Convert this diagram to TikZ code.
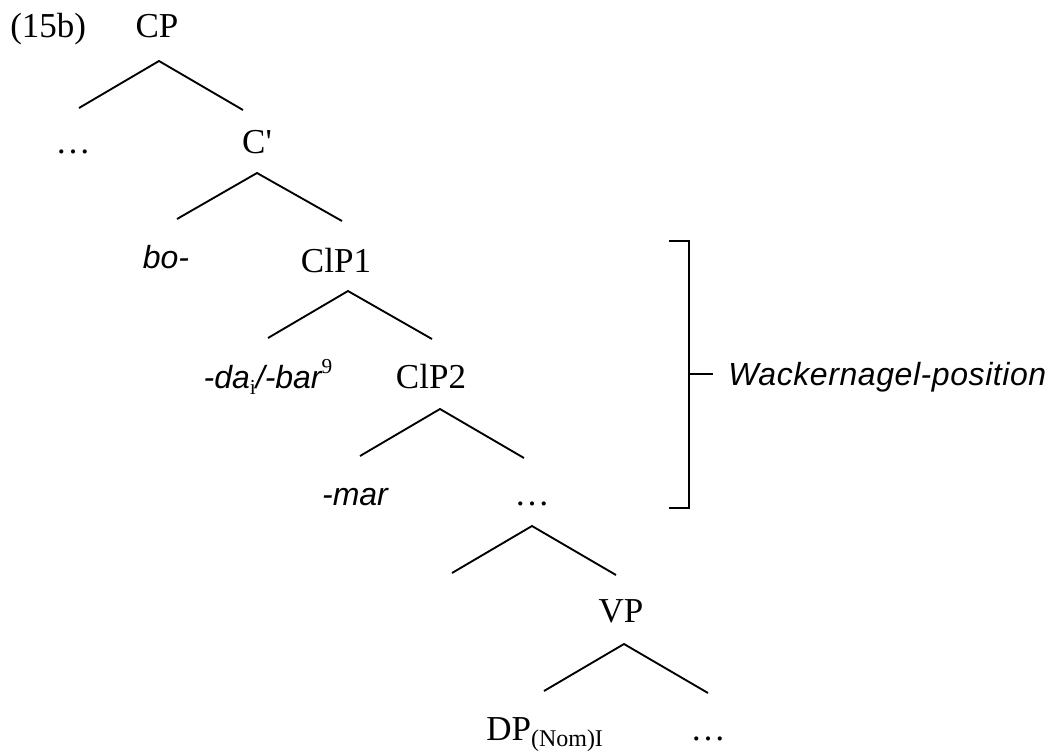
\documentclass[tikz,border=0pt]{standalone}
\usepackage{fontspec}
\setmainfont{Liberation Serif}
\newfontfamily\arial{Liberation Sans}
\newfontfamily\arialw{Liberation Sans}[LetterSpace=1.8]
\begin{document}
\begin{tikzpicture}[x=0.75pt,y=-0.75pt,
  lab/.style={inner sep=0pt,anchor=base,font=\fontsize{26.25}{30}\selectfont},
  mor/.style={inner sep=0pt,anchor=base,font=\arial\itshape\fontsize{24}{28}\selectfont},
  branch/.style={line width=1.4pt,line cap=butt},
  brk/.style={line width=1.6pt}]
\useasboundingbox (0,0) rectangle (1054,751);
% labels
\node[lab,anchor=base west] (ex) at (10,37) {(15b)};
\node[lab] (cp) at (157,37) {CP};
\node[lab] (d1) at (73,153) {\dots};
\node[lab] (cbar) at (257,153) {C\textquotesingle};
\node[mor] (bo) at (166,268) {bo-};
\node[lab] (clp1) at (336,272) {ClP1};
\node[mor] (dabar) at (268,388) {-da\raisebox{-5pt}{\rmfamily\upshape\fontsize{16}{16}\selectfont i}/-bar\raisebox{11pt}{\rmfamily\upshape\fontsize{16}{16}\selectfont 9}};
\node[lab] (clp2) at (431,388) {ClP2};
\node[mor] (mar) at (355,505) {-mar};
\node[lab] (d2) at (532,505) {\dots};
\node[lab] (vp) at (621,622) {VP};
\node[lab,anchor=base west] (dp) at (486,740) {DP\raisebox{-5pt}{\fontsize{18}{18}\selectfont (Nom)I}};
\node[lab] (d3) at (708,740) {\dots};
% branch points
\coordinate (a1) at (159,61);  \coordinate (l1) at (79,108);  \coordinate (r1) at (243,110);
\coordinate (a2) at (257,173); \coordinate (l2) at (177,219); \coordinate (r2) at (342,221);
\coordinate (a3) at (348,291); \coordinate (l3) at (268,338); \coordinate (r3) at (432,339);
\coordinate (a4) at (440,409); \coordinate (l4) at (360,456); \coordinate (r4) at (524,458);
\coordinate (a5) at (532,526); \coordinate (l5) at (452,573); \coordinate (r5) at (616,575);
\coordinate (a6) at (624,644); \coordinate (l6) at (544,691); \coordinate (r6) at (708,693);
\foreach \i in {1,...,6}{\draw[branch] (l\i) -- (a\i) -- (r\i);}
% bracket
\coordinate (bt0) at (669,241); \coordinate (bt) at (689,241);
\coordinate (bb) at (689,508); \coordinate (bb0) at (669,508);
\coordinate (bm) at (689,374); \coordinate (bm1) at (713,374);
\draw[brk] (bt0) -- (bt) -- (bb) -- (bb0);
\draw[brk] (bm) -- (bm1);
\node[inner sep=0pt,anchor=base west,font=\arialw\itshape\fontsize{24}{28}\selectfont] (wack) at (728,385) {Wackernagel-position};
\end{tikzpicture}
\end{document}
